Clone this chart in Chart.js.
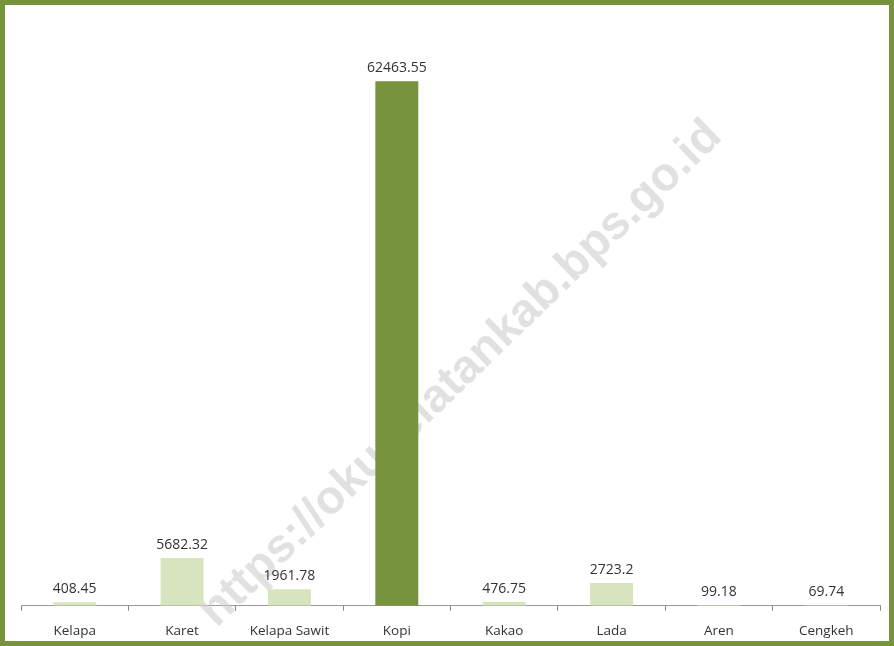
<!DOCTYPE html>
<html>
<head>
<meta charset="utf-8">
<script src="https://cdn.jsdelivr.net/npm/chart.js@4"></script>
<style>
  html, body { margin: 0; padding: 0; background: #fff; }
  #frame {
    width: 894px; height: 646px; box-sizing: border-box;
    border: 5px solid #77933c; background: #fff; position: relative;
  }
  #chart { display: block; }
</style>
</head>
<body>
<div id="frame"><canvas id="chart" width="884" height="636"></canvas></div>
<script>
// komoditas perkebunan
var categories = ["Kelapa", "Karet", "Kelapa Sawit", "Kopi", "Kakao", "Lada", "Aren", "Cengkeh"];
var production = [408.45, 5682.32, 1961.78, 62463.55, 476.75, 2723.2, 99.18, 69.74];
var valueLabels = ["408.45", "5682.32", "1961.78", "62463.55", "476.75", "2723.2", "99.18", "69.74"];
var highlight = "Kopi";
var watermarkText = "https://okuselatankab.bps.go.id";

var barColors = categories.map(function (c) {
    return c == highlight ? "#77933c" : "#d7e4bd";
});

// watermark goes behind the bars
var watermarkPlugin = {
    id: "watermark",
    beforeDatasetsDraw: function (chart) {
        var ctx = chart.ctx;
        ctx.save();
        ctx.translate(456, 369);
        ctx.rotate(-44 * Math.PI / 180);
        ctx.font = "bold 47px 'Liberation Sans', Arial, sans-serif";
        ctx.fillStyle = "rgba(205,205,205,0.6)";
        ctx.textAlign = "center";
        ctx.textBaseline = "middle";
        ctx.fillText(watermarkText, 0, 0);
        ctx.restore();
    }
};

// value on top of each bar
var valueLabelPlugin = {
    id: "valueLabels",
    afterDatasetsDraw: function (chart) {
        var ctx = chart.ctx;
        var meta = chart.getDatasetMeta(0);
        ctx.save();
        ctx.font = "14px 'Open Sans', sans-serif";
        ctx.fillStyle = "#333";
        ctx.textAlign = "center";
        ctx.textBaseline = "bottom";
        for (var i = 0; i < meta.data.length; ++i) {
            var bar = meta.data[i];
            ctx.fillText(valueLabels[i], bar.x, bar.y - 6);
        }
        ctx.restore();
    }
};

new Chart(document.getElementById("chart"), {
    type: "bar",
    data: {
        labels: categories,
        datasets: [{
            data: production,
            backgroundColor: barColors,
            barPercentage: 0.8,
            categoryPercentage: 0.5
        }]
    },
    options: {
        responsive: false,
        animation: false,
        devicePixelRatio: 1,
        layout: { padding: { left: 16, right: 9, top: 13, bottom: -10 } },
        plugins: {
            legend: { display: false },
            tooltip: { enabled: false }
        },
        scales: {
            x: {
                grid: {
                    display: true,
                    drawOnChartArea: false,
                    drawTicks: true,
                    tickLength: 5,
                    color: "#888",
                    offset: true
                },
                border: { display: true, color: "#999", width: 1 },
                ticks: {
                    color: "#333",
                    font: { family: "'Open Sans', sans-serif", size: 13.5 },
                    padding: 12,
                    autoSkip: false,
                    maxRotation: 0
                }
            },
            y: {
                display: false,
                min: 0,
                max: 70000
            }
        }
    },
    plugins: [watermarkPlugin, valueLabelPlugin]
});
</script>
</body>
</html>
